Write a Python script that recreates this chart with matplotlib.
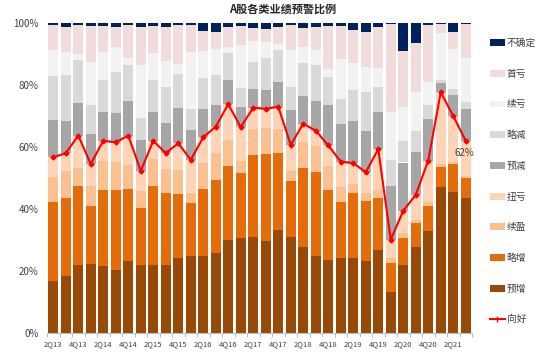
import matplotlib
matplotlib.use("Agg")
import matplotlib.pyplot as plt
import numpy as np
from matplotlib.patches import Patch
from matplotlib.lines import Line2D

plt.rcParams['font.family'] = ['Noto Sans CJK SC', 'DejaVu Sans']

quarters = ['2Q13', '3Q13', '4Q13', '1Q14', '2Q14', '3Q14', '4Q14', '1Q15', '2Q15', '3Q15',
            '4Q15', '1Q16', '2Q16', '3Q16', '4Q16', '1Q17', '2Q17', '3Q17', '4Q17', '1Q18',
            '2Q18', '3Q18', '4Q18', '1Q19', '2Q19', '3Q19', '4Q19', '1Q20', '2Q20', '3Q20',
            '4Q20', '1Q21', '2Q21', '3Q21']

yuzeng = [16.7, 18.5, 21.8, 22.2, 21.5, 20.2, 23.1, 21.8, 22.0, 22.0, 24.2, 25.0, 24.7, 25.8, 29.9, 30.6, 31.1,
          29.8, 33.3, 30.9, 27.6, 24.7, 23.6, 24.2, 24.2, 23.1, 26.9, 13.2, 22.0, 27.6, 33.0, 47.0, 45.6, 43.5]
luezeng = [25.5, 25.0, 25.5, 18.9, 24.7, 26.0, 23.4, 18.5, 25.3, 23.3, 20.7, 16.9, 21.8, 23.6, 24.1, 21.0, 26.4,
           28.0, 24.7, 18.0, 25.6, 27.2, 22.6, 18.2, 20.9, 19.5, 16.6, 9.4, 8.6, 7.8, 8.1, 6.7, 9.0, 6.4]
xuying = [8.0, 8.6, 5.9, 6.4, 9.3, 8.9, 7.7, 5.6, 8.9, 7.7, 7.7, 3.2, 8.3, 8.8, 8.3, 4.0, 8.2,
          8.3, 7.7, 3.4, 8.3, 8.3, 7.7, 4.6, 3.0, 2.5, 2.5, 1.6, 1.6, 1.1, 1.3, 0.9, 0.7, 0.6]
niukui = [6.5, 5.9, 10.5, 7.0, 6.5, 6.4, 9.5, 6.4, 5.8, 5.0, 8.6, 10.8, 8.3, 8.4, 11.5, 10.8, 7.0,
          6.2, 7.3, 8.4, 6.0, 5.1, 6.6, 8.3, 6.7, 6.8, 13.3, 5.9, 7.2, 8.1, 13.2, 23.1, 14.7, 11.5]
yujian = [11.9, 10.5, 10.6, 9.6, 9.4, 9.4, 11.2, 10.0, 9.4, 9.6, 11.3, 9.6, 9.2, 7.0, 7.8, 6.4, 5.9,
          6.1, 8.1, 11.3, 9.1, 9.6, 12.9, 12.0, 13.7, 13.3, 12.1, 17.2, 15.6, 13.7, 13.4, 3.1, 6.8, 10.3]
luejian = [14.4, 14.6, 13.8, 9.5, 10.2, 13.2, 11.6, 7.2, 10.2, 11.7, 11.1, 6.7, 10.1, 9.6, 8.6, 6.1, 8.9,
           10.4, 10.2, 7.5, 10.4, 11.6, 9.1, 8.2, 9.9, 12.5, 7.8, 8.6, 6.8, 6.9, 4.4, 0.8, 1.9, 2.1]
xukui = [8.3, 7.7, 1.9, 13.9, 8.9, 8.0, 2.1, 17.0, 8.6, 8.6, 3.1, 18.6, 8.7, 8.4, 2.2, 14.0, 6.7,
         5.2, 1.8, 11.8, 5.1, 4.8, 2.7, 12.9, 8.6, 8.2, 6.4, 15.5, 11.2, 12.7, 7.7, 15.1, 12.8, 14.4]
shoukui = [7.9, 7.9, 9.5, 11.6, 8.4, 6.5, 10.8, 12.2, 8.9, 10.8, 12.7, 8.6, 6.4, 5.4, 6.4, 6.2, 4.1,
           4.1, 5.7, 8.1, 6.2, 7.3, 13.9, 10.7, 10.7, 11.1, 13.2, 28.2, 18.1, 15.5, 18.3, 3.0, 5.7, 11.0]
buqueding = [0.8, 1.3, 0.5, 0.9, 1.1, 1.4, 0.6, 1.3, 0.9, 1.3, 0.6, 0.6, 2.5, 3.0, 1.2, 0.9, 1.7,
             1.9, 1.2, 0.6, 1.7, 1.4, 0.9, 0.9, 2.3, 3.0, 1.2, 0.4, 8.9, 6.6, 0.6, 0.3, 2.8, 0.2]
xianghao = [56.7, 58.0, 63.7, 54.5, 62.0, 61.5, 63.7, 52.3, 62.0, 58.0, 61.2, 55.9, 63.1, 66.6, 73.8, 66.4, 72.7,
            72.3, 73.0, 60.7, 67.5, 65.3, 60.5, 55.3, 54.8, 51.9, 59.3, 30.1, 39.4, 44.6, 55.6, 77.7, 70.0, 62.0]

series_names = ['预增', '略增', '续盈', '扭亏', '预减', '略减', '续亏', '首亏', '不确定']
series_vals = [yuzeng, luezeng, xuying, niukui, yujian, luejian, xukui, shoukui, buqueding]
colors = ['#984807', '#e46c0a', '#fac090', '#fdd5b6', '#a6a6a6', '#d9d9d9', '#f2f2f2', '#f2dcdb', '#002060']

fig = plt.figure(figsize=(5.54, 3.53), dpi=100)
ax = fig.add_axes([47/554, 20/353, 425/554, 310/353])

x = np.arange(len(quarters))
bottom = np.zeros(len(quarters))
for name, vals, c in zip(series_names, series_vals, colors):
    v = np.array(vals)
    ax.bar(x, v, bottom=bottom, width=0.8, color=c, edgecolor='none', label=name)
    bottom += v

ax.plot(x, xianghao, color='#ff0000', lw=1.5, marker='D', ms=2.5, label='向好')
ax.text(x[-1] - 0.1, xianghao[-1] - 2.2, '62%', fontsize=7, color='#404040',
        ha='center', va='top')

ax.set_xlim(-0.5, len(quarters) - 0.5)
ax.set_ylim(0, 100)
ax.set_yticks([0, 20, 40, 60, 80, 100])
ax.set_yticklabels([f'{v}%' for v in [0, 20, 40, 60, 80, 100]], fontsize=7, color='#404040')
ax.set_xticks(x[::2])
ax.set_xticklabels(quarters[::2], fontsize=5.5, color='#404040')
ax.set_xticks(np.arange(-0.5, len(quarters), 1), minor=True)
ax.tick_params(axis='x', which='major', length=0, pad=5)
ax.tick_params(axis='x', which='minor', length=3, color='#bfbfbf', width=0.8)
ax.tick_params(axis='y', length=0, pad=6)
for s in ['top', 'right', 'left']:
    ax.spines[s].set_visible(False)
ax.spines['bottom'].set_color('#bfbfbf')
ax.spines['bottom'].set_linewidth(0.8)

fig.text(283/554, 1 - 9/353, 'A股各类业绩预警比例', fontsize=8, fontweight='bold',
         color='#262626', ha='center', va='center')

handles = [Patch(facecolor=c, edgecolor='none') for c in colors[::-1]]
labels = series_names[::-1]
handles.append(Line2D([0], [0], color='#ff0000', lw=1.5, marker='|', ms=4))
labels.append('向好')
leg = fig.legend(handles, labels, loc='upper left', bbox_to_anchor=(490/554, 1 - 38/353),
                 frameon=False, fontsize=7, labelspacing=2.13, handlelength=1.5,
                 handleheight=0.7, handletextpad=0.2, borderpad=0, borderaxespad=0)
for t in leg.get_texts():
    t.set_color('#404040')

fig.savefig('out.png', dpi=100)
